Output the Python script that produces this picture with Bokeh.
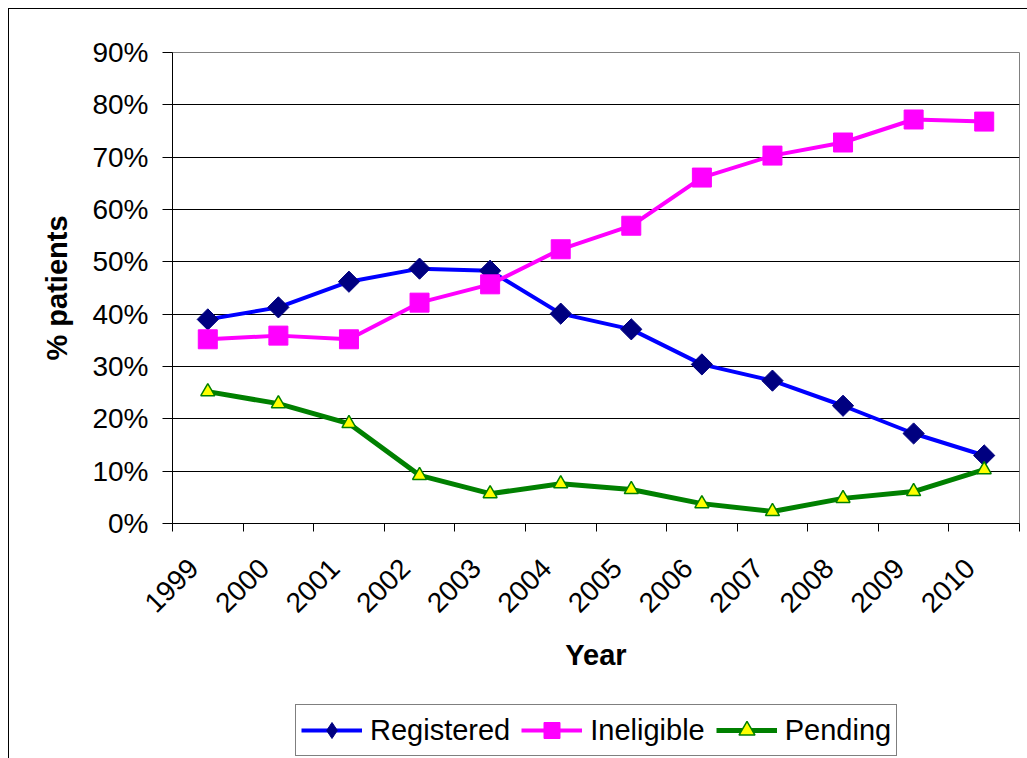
import math
from bokeh.plotting import figure
from bokeh.layouts import column
from bokeh.models import (Range1d, FixedTicker, NumeralTickFormatter, Legend, LegendItem)
from bokeh.embed import file_html
from bokeh.resources import INLINE

years = ["1999", "2000", "2001", "2002", "2003", "2004", "2005", "2006", "2007", "2008", "2009", "2010"]
registered = [0.390, 0.413, 0.462, 0.487, 0.483, 0.401, 0.371, 0.304, 0.273, 0.225, 0.172, 0.130]
ineligible = [0.352, 0.359, 0.352, 0.422, 0.457, 0.524, 0.569, 0.661, 0.703, 0.728, 0.772, 0.768]
pending = [0.252, 0.229, 0.191, 0.092, 0.057, 0.076, 0.065, 0.038, 0.023, 0.048, 0.061, 0.103]
y_ticks = [0.0, 0.1, 0.2, 0.3, 0.4, 0.5, 0.6, 0.7, 0.8, 0.9]

xs = [i + 0.5 for i in range(len(years))]
label_pos = [i + 0.3 for i in range(len(years))]
FONT = "Liberation Sans"

p1 = figure(width=1018, height=690, output_backend="svg", toolbar_location=None,
            x_range=Range1d(0, len(years)), y_range=Range1d(0, 0.9),
            min_border_left=163, min_border_right=8, min_border_top=43, min_border_bottom=176)

p1.background_fill_color = "white"
p1.border_fill_color = "white"
p1.outline_line_color = "#808080"
p1.outline_line_width = 1

# axes
p1.xaxis.ticker = FixedTicker(ticks=label_pos, minor_ticks=list(range(len(years) + 1)))
p1.xaxis.major_label_overrides = {x: y for x, y in zip(label_pos, years)}
p1.xaxis.major_tick_out = 0
p1.xaxis.major_tick_in = 0
p1.xaxis.minor_tick_out = 8
p1.xaxis.minor_tick_in = 0
p1.xaxis.minor_tick_line_color = "black"
p1.xaxis.major_label_orientation = math.pi / 4
p1.xaxis.major_label_standoff = 32
p1.xaxis.axis_label = "Year"
p1.xaxis.axis_label_standoff = 15

p1.yaxis.ticker = FixedTicker(ticks=y_ticks, minor_ticks=[])
p1.yaxis.formatter = NumeralTickFormatter(format="0%")
p1.yaxis.major_tick_out = 10
p1.yaxis.major_tick_in = 0
p1.yaxis.major_label_standoff = 14
p1.yaxis.axis_label = "% patients"
p1.yaxis.axis_label_standoff = 16

for ax in (p1.xaxis, p1.yaxis):
    ax.axis_line_color = "black"
    ax.axis_line_width = 1
    ax.major_tick_line_color = "black"
    ax.major_label_text_font = FONT
    ax.major_label_text_font_size = "28px"
    ax.major_label_text_color = "black"
    ax.axis_label_text_font = FONT
    ax.axis_label_text_font_size = "29px"
    ax.axis_label_text_font_style = "bold"
    ax.axis_label_text_color = "black"

p1.xgrid.grid_line_color = None
p1.ygrid.ticker = FixedTicker(ticks=y_ticks)
p1.ygrid.grid_line_color = "black"
p1.ygrid.grid_line_width = 1

# series
p1.line(xs, registered, line_color="#0000FF", line_width=4)
p1.scatter(xs, registered, marker="square", angle=math.pi / 4, size=15,
           fill_color="#000080", line_color="#000080")
p1.line(xs, ineligible, line_color="#FF00FF", line_width=4)
p1.scatter(xs, ineligible, marker="square", size=19,
           fill_color="#FF00FF", line_color="#FF00FF")
p1.line(xs, pending, line_color="#008000", line_width=5)
p1.scatter(xs, pending, marker="triangle", size=14,
           fill_color="#FFFF00", line_color="#008000", line_width=1.5)

# legend strip (its series lie outside its view; only the legend shows)
p2 = figure(width=1018, height=59, output_backend="svg", toolbar_location=None,
            x_range=Range1d(100, 101), y_range=Range1d(100, 101),
            x_axis_location=None, y_axis_location=None, min_border=0)
p2.outline_line_color = None
p2.background_fill_color = "white"
p2.border_fill_color = "white"
p2.grid.visible = False

l1 = p2.line(xs, registered, line_color="#0000FF", line_width=4)
m1 = p2.scatter(xs, registered, marker="diamond", size=15,
                fill_color="#000080", line_color="#000080")
l2 = p2.line(xs, ineligible, line_color="#FF00FF", line_width=4)
m2 = p2.scatter(xs, ineligible, marker="square", size=19,
                fill_color="#FF00FF", line_color="#FF00FF")
l3 = p2.line(xs, pending, line_color="#008000", line_width=5)
m3 = p2.scatter(xs, pending, marker="triangle", size=14,
                fill_color="#FFFF00", line_color="#008000", line_width=1.5)

legend = Legend(items=[
    LegendItem(label="Registered", renderers=[l1, m1]),
    LegendItem(label="Ineligible", renderers=[l2, m2]),
    LegendItem(label="Pending", renderers=[l3, m3]),
], orientation="horizontal", location=(123, 2))
legend.label_text_font = FONT
legend.label_text_font_size = "29px"
legend.label_text_color = "black"
legend.glyph_width = 61
legend.glyph_height = 40
legend.label_standoff = 8
legend.spacing = 11
legend.padding = 5
legend.margin = 0
legend.border_line_color = "black"
legend.border_line_width = 1
legend.background_fill_color = "white"
legend.background_fill_alpha = 1
p2.add_layout(legend, "center")

p = column(p1, p2, spacing=0)
p.styles = {"margin-left": "8px", "margin-top": "8px",
            "border-left": "1px solid black", "border-top": "1px solid black"}

open("out.html", "w").write(file_html(p, INLINE))
